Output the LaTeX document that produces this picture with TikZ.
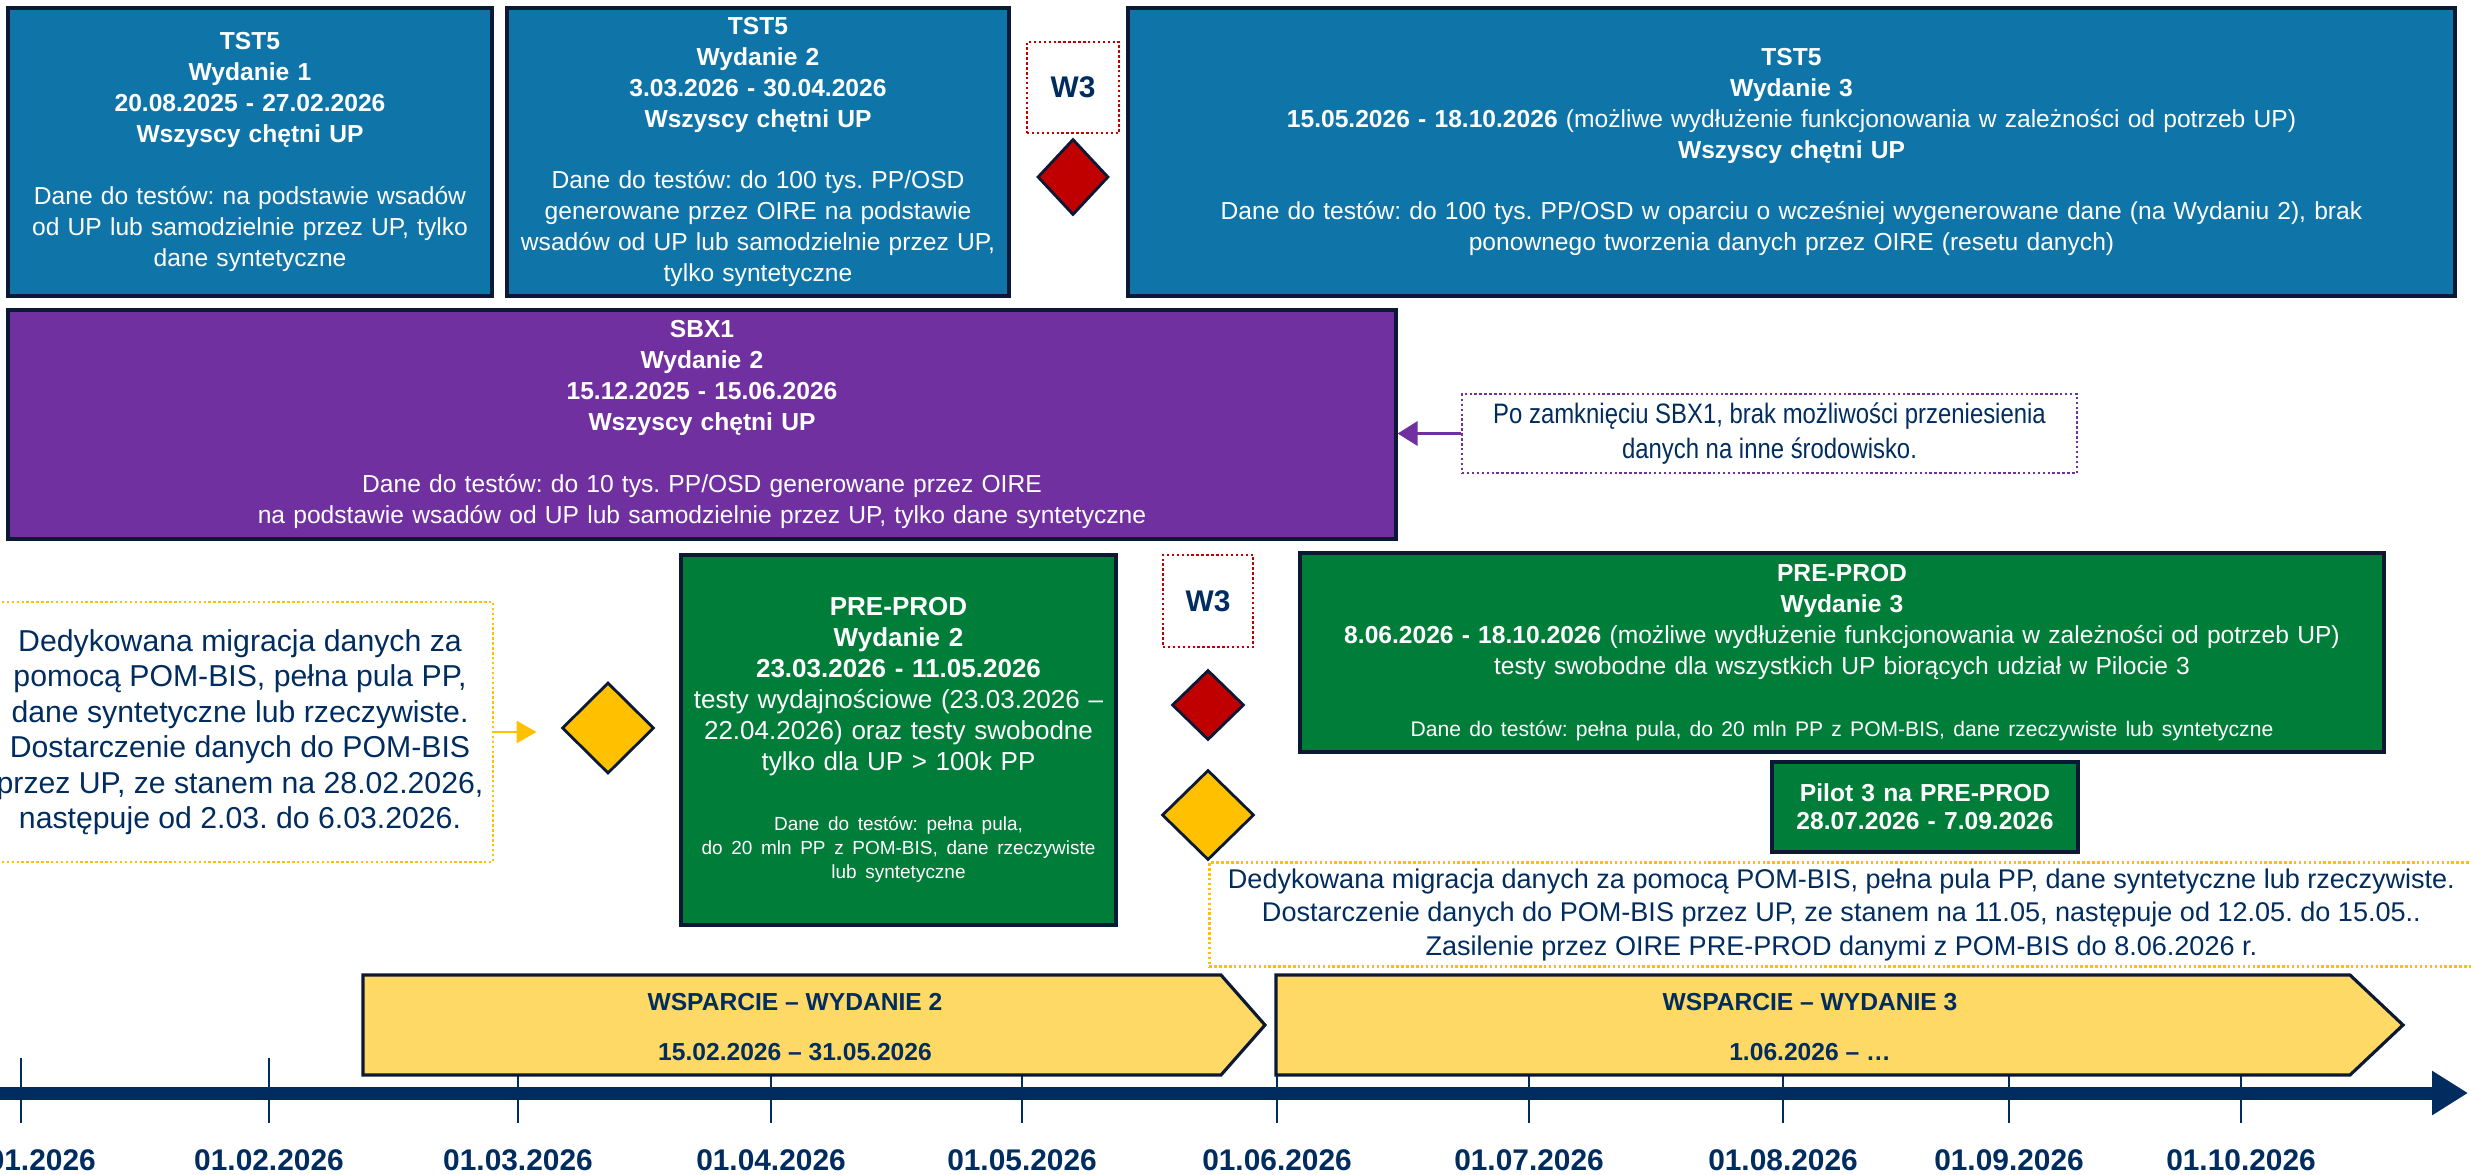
\documentclass[tikz,border=0pt]{standalone}
\usepackage{fontspec}
\setmainfont{Liberation Sans}
\newfontfamily\narrowfont{Liberation Sans}[FakeStretch=0.85]
\usetikzlibrary{shapes.geometric,arrows.meta}
\frenchspacing

\definecolor{tstblue}{RGB}{15,117,168}
\definecolor{sbxpurple}{RGB}{112,48,160}
\definecolor{prodgreen}{RGB}{0,126,57}
\definecolor{boxnavy}{RGB}{12,25,52}
\definecolor{textnavy}{RGB}{0,44,95}
\definecolor{w3red}{RGB}{192,0,0}
\definecolor{migyellow}{RGB}{255,192,0}
\definecolor{supportyellow}{RGB}{255,217,102}

\begin{document}
\begin{tikzpicture}[
	envbox/.style={draw=boxnavy, line width=0.9pt, text=white, align=center, inner sep=0pt, font=\fontsize{7}{8.8}\selectfont},
	wlabel/.style={draw=w3red, line width=0.8pt, dash pattern=on 0.7pt off 0.7pt, text=textnavy, inner sep=0pt, font=\fontsize{8.5}{10}\selectfont\bfseries},
	milestone/.style={diamond, draw=boxnavy, line width=0.8pt, inner sep=0pt},
	notebox/.style={line width=0.8pt, dash pattern=on 0.7pt off 0.7pt, text=textnavy, align=center, inner sep=0pt},
	supportbar/.style={fill=supportyellow, draw=boxnavy, line width=0.9pt},
	supporttext/.style={text=textnavy, align=center, font=\fontsize{7}{8.4}\selectfont\bfseries},
	datelabel/.style={text=textnavy, font=\fontsize{8.5}{10}\selectfont\bfseries},
	tick/.style={textnavy, line width=0.6pt}]

%Rahmen
\useasboundingbox (0,0) rectangle (24.71,-11.74);

%TST5
\node[envbox, fill=tstblue, text width=4.84cm, minimum height=2.88cm] (tstA) at (2.50,-1.52) {\textbf{TST5}\\ \textbf{Wydanie 1}\\ \textbf{20.08.2025 - 27.02.2026}\\ \textbf{Wszyscy chętni UP}\\[\baselineskip] Dane do testów: na podstawie wsadów\\ od UP lub samodzielnie przez UP, tylko\\ dane syntetyczne};
\node[envbox, fill=tstblue, text width=5.02cm, minimum height=2.88cm] (tstB) at (7.58,-1.52) {\textbf{TST5}\\ \textbf{Wydanie 2}\\ \textbf{3.03.2026 - 30.04.2026}\\ \textbf{Wszyscy chętni UP}\\[\baselineskip] Dane do testów: do 100 tys. PP/OSD\\ generowane przez OIRE na podstawie\\ wsadów od UP lub samodzielnie przez UP,\\ tylko syntetyczne};
\node[envbox, fill=tstblue, text width=13.27cm, minimum height=2.88cm] (tstC) at (17.915,-1.52) {\textbf{TST5}\\ \textbf{Wydanie 3}\\ \textbf{15.05.2026 - 18.10.2026} (możliwe wydłużenie funkcjonowania w zależności od potrzeb UP)\\ \textbf{Wszyscy chętni UP}\\[\baselineskip] Dane do testów: do 100 tys. PP/OSD w oparciu o wcześniej wygenerowane dane (na Wydaniu 2), brak\\ ponownego tworzenia danych przez OIRE (resetu danych)};

%W3 oben
\node[wlabel, minimum width=0.92cm, minimum height=0.91cm] (wA) at (10.73,-0.875) {W3};
\node[milestone, fill=w3red, minimum width=0.71cm, minimum height=0.76cm] (rdA) at (10.73,-1.77) {};

%SBX1
\node[envbox, fill=sbxpurple, text width=13.88cm, minimum height=2.29cm] (sbx) at (7.02,-4.245) {\textbf{SBX1}\\ \textbf{Wydanie 2}\\ \textbf{15.12.2025 - 15.06.2026}\\ \textbf{Wszyscy chętni UP}\\[\baselineskip] Dane do testów: do 10 tys. PP/OSD generowane przez OIRE\\ na podstawie wsadów od UP lub samodzielnie przez UP, tylko dane syntetyczne};
\node[notebox, draw=sbxpurple, minimum width=6.15cm, minimum height=0.79cm, font=\narrowfont\fontsize{8}{10}\selectfont] (sbxNote) at (17.695,-4.335) {Po zamknięciu SBX1, brak możliwości przeniesienia\\ danych na inne środowisko.};
\draw[sbxpurple, line width=1pt, -{Triangle[length=2mm,width=2.4mm]}] (sbxNote.west) -- (sbxNote.west -| sbx.east);

%Migracja Wydanie 2
\node[notebox, draw=migyellow, minimum width=5.06cm, minimum height=2.60cm, font=\fontsize{8.6}{10.1}\selectfont] (migA) at (2.40,-7.32) {Dedykowana migracja danych za\\ pomocą POM-BIS, pełna pula PP,\\ dane syntetyczne lub rzeczywiste.\\ Dostarczenie danych do POM-BIS\\ przez UP, ze stanem na 28.02.2026,\\ następuje od 2.03. do 6.03.2026.};
\node[milestone, fill=migyellow, minimum width=0.92cm, minimum height=0.91cm] (ydA) at (6.08,-7.28) {};
\draw[migyellow, line width=0.8pt, -{Triangle[length=2mm,width=2.2mm]}] (migA.east) -- ([xshift=-2.4mm]migA.east -| ydA.west);

%PRE-PROD
\node[envbox, fill=prodgreen, text width=4.35cm, minimum height=3.70cm, font=\fontsize{7.4}{8.8}\selectfont] (ppB) at (8.985,-7.40) {\textbf{PRE-PROD}\\ \textbf{Wydanie 2}\\ \textbf{23.03.2026 - 11.05.2026}\\ testy wydajnościowe (23.03.2026 –\\ 22.04.2026) oraz testy swobodne\\ tylko dla UP > 100k PP\par\vspace{3.6mm}{\fontsize{5.4}{6.8}\selectfont Dane do testów: pełna pula,\\ do 20 mln PP z POM-BIS, dane rzeczywiste\\ lub syntetyczne\par}};
\node[envbox, fill=prodgreen, text width=10.84cm, minimum height=1.99cm] (ppC) at (18.42,-6.525) {\textbf{PRE-PROD}\\ \textbf{Wydanie 3}\\ \textbf{8.06.2026 - 18.10.2026} (możliwe wydłużenie funkcjonowania w zależności od potrzeb UP)\\ testy swobodne dla wszystkich UP biorących udział w Pilocie 3\par\vspace{3.7mm}{\fontsize{6}{7}\selectfont Dane do testów: pełna pula, do 20 mln PP z POM-BIS, dane rzeczywiste lub syntetyczne\par}};
\node[envbox, fill=prodgreen, text width=3.06cm, minimum height=0.90cm, font=\fontsize{7}{8}\selectfont] (pilot) at (19.25,-8.07) {\textbf{Pilot 3 na PRE-PROD}\\ \textbf{28.07.2026 - 7.09.2026}};

%W3 Mitte
\node[wlabel, minimum width=0.90cm, minimum height=0.92cm] (wB) at (12.08,-6.01) {W3};
\node[milestone, fill=w3red, minimum width=0.72cm, minimum height=0.70cm] (rdB) at (12.08,-7.05) {};
\node[milestone, fill=migyellow, minimum width=0.92cm, minimum height=0.90cm] (ydB) at (12.08,-8.15) {};

%Migracja Wydanie 3
\node[notebox, draw=migyellow, anchor=north west, minimum width=12.64cm, minimum height=1.04cm, font=\fontsize{7.7}{9.5}\selectfont] (migB) at (ydB.south) {Dedykowana migracja danych za pomocą POM-BIS, pełna pula PP, dane syntetyczne lub rzeczywiste.\\ Dostarczenie danych do POM-BIS przez UP, ze stanem na 11.05, następuje od 12.05. do 15.05..\\ Zasilenie przez OIRE PRE-PROD danymi z POM-BIS do 8.06.2026 r.};

%Oś czasu
\foreach \x/\datum [count=\i] in {0.21/01.01.2026, 2.69/01.02.2026, 5.18/01.03.2026, 7.71/01.04.2026, 10.22/01.05.2026, 12.77/01.06.2026, 15.29/01.07.2026, 17.83/01.08.2026, 20.09/01.09.2026, 22.41/01.10.2026}{
	\draw[tick] (\x,-10.58) -- (\x,-11.23);
	\node[datelabel] (date\i) at (\x,-11.60) {\datum};
}
\draw[textnavy, line width=1.3mm, -{Triangle[length=3.6mm,width=4.2mm]}] (-0.1,-10.93) -- (24.68,-10.93);

%Wsparcie
\filldraw[supportbar] (3.63,-9.75) -- (12.21,-9.75) -- (12.65,-10.25) -- (12.21,-10.75) -- (3.63,-10.75) -- cycle;
\node[supporttext] (supB) at (7.95,-10.27) {WSPARCIE – WYDANIE 2\\[5.6pt] 15.02.2026 – 31.05.2026};
\filldraw[supportbar] (12.76,-9.75) -- (23.50,-9.75) -- (24.03,-10.25) -- (23.50,-10.75) -- (12.76,-10.75) -- cycle;
\node[supporttext] (supC) at (18.10,-10.27) {WSPARCIE – WYDANIE 3\\[5.6pt] 1.06.2026 – …};

\end{tikzpicture}
\end{document}
